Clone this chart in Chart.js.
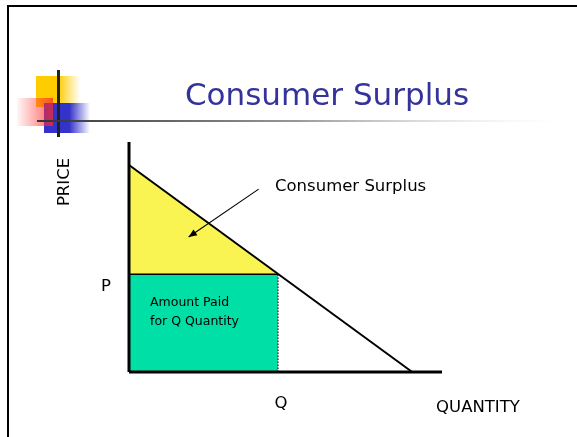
<!DOCTYPE html>
<html>
<head>
  <title>Consumer Surplus</title>
  <style>
    body { margin: 0; background: #fff; overflow: hidden; }
    #chart { display: block; }
  </style>
</head>
<body>
  <canvas id="chart" width="577" height="437"></canvas>

  <script src="https://cdn.jsdelivr.net/npm/chart.js"></script>
  <script>
    // values (quantity on x, price on y)
    const demandLine = [{ x: 0, y: 9 }, { x: 9.5, y: 0 }];
    const priceP = 4.25;
    const quantityQ = 5;
    const axisMax = { x: 10.5, y: 10 };
    const labels = ["Consumer Surplus", "Amount Paid", "for Q Quantity", "PRICE", "QUANTITY", "P", "Q"];
    // arrow annotation from the label to the surplus area (data units)
    const arrowFrom = [4.35, 7.95];
    const arrowTo = [2, 5.87];

    const FONT = '"DejaVu Sans", Verdana, sans-serif';

    // slide frame, template squares, title and text labels
    const slidePlugin = {
      id: "slide",
      beforeDraw(chart) {
        const c = chart.ctx;
        c.save();
        c.fillStyle = "#fff";
        c.fillRect(0, 0, chart.width, chart.height);

        // frame (only top and left edges are inside the picture)
        c.fillStyle = "#000";
        c.fillRect(7, 5, chart.width - 7, 2);
        c.fillRect(7, 5, 2, chart.height - 5);

        // yellow square
        let g = c.createLinearGradient(36, 0, 80, 0);
        g.addColorStop(0, "#ffcc00");
        g.addColorStop(0.5, "#ffcc00");
        g.addColorStop(1, "rgba(255,204,0,0)");
        c.fillStyle = g;
        c.fillRect(36, 76, 44, 31);

        // blue square
        g = c.createLinearGradient(44, 0, 90, 0);
        g.addColorStop(0, "#3333cc");
        g.addColorStop(0.55, "#3333cc");
        g.addColorStop(1, "rgba(51,51,204,0)");
        c.fillStyle = g;
        c.fillRect(44, 103, 46, 30);

        // red square, transparent on the left
        g = c.createLinearGradient(17, 0, 53, 0);
        g.addColorStop(0, "rgba(255,60,60,0.05)");
        g.addColorStop(1, "rgba(255,40,40,0.75)");
        c.fillStyle = g;
        c.fillRect(17, 98, 36, 28);

        // cross lines
        c.fillStyle = "#222";
        c.fillRect(57, 70, 3, 67);
        g = c.createLinearGradient(37, 0, 560, 0);
        g.addColorStop(0, "#333");
        g.addColorStop(0.5, "#999");
        g.addColorStop(1, "rgba(230,230,230,0)");
        c.fillStyle = g;
        c.fillRect(37, 120, 530, 2);
        c.restore();
      },
      afterDraw(chart) {
        const c = chart.ctx;
        const xs = chart.scales.x, ys = chart.scales.y;
        c.save();

        // title
        c.fillStyle = "#333399";
        c.font = "31px " + FONT;
        c.textAlign = "center";
        c.textBaseline = "middle";
        c.fillText("Consumer Surplus", 327, 97);

        c.fillStyle = "#000";
        c.font = "16.5px " + FONT;
        c.textAlign = "left";
        c.fillText(labels[0], 275, 187);

        c.font = "12.5px " + FONT;
        c.fillText(labels[1], 150, 303);
        c.fillText(labels[2], 150, 322);

        c.font = "16.5px " + FONT;
        c.textAlign = "center";
        c.fillText(labels[4], 478, 408);
        c.fillText(labels[5], 106, ys.getPixelForValue(priceP) + 12);
        c.fillText(labels[6], xs.getPixelForValue(quantityQ) + 3, 404);

        c.save();
        c.translate(65, 182);
        c.rotate(-Math.PI / 2);
        c.fillText(labels[3], 0, 0);
        c.restore();

        // arrow
        const x1 = xs.getPixelForValue(arrowFrom[0]), y1 = ys.getPixelForValue(arrowFrom[1]);
        const x2 = xs.getPixelForValue(arrowTo[0]), y2 = ys.getPixelForValue(arrowTo[1]);
        c.strokeStyle = "#000";
        c.lineWidth = 1.1;
        c.beginPath();
        c.moveTo(x1, y1);
        c.lineTo(x2, y2);
        c.stroke();
        const a = Math.atan2(y2 - y1, x2 - x1);
        c.fillStyle = "#000";
        c.beginPath();
        c.moveTo(x2, y2);
        c.lineTo(x2 - 9 * Math.cos(a - 0.4), y2 - 9 * Math.sin(a - 0.4));
        c.lineTo(x2 - 9 * Math.cos(a + 0.4), y2 - 9 * Math.sin(a + 0.4));
        c.closePath();
        c.fill();
        c.restore();
      }
    };

    const ctx = document.getElementById("chart").getContext("2d");
    const chart = new Chart(ctx, {
      type: "scatter",
      data: {
        datasets: [
          { // price axis
            data: [{ x: 0, y: 0 }, { x: 0, y: axisMax.y }],
            borderColor: "#000", borderWidth: 3, showLine: true, pointRadius: 0, clip: false
          },
          { // quantity axis
            data: [{ x: 0, y: 0 }, { x: axisMax.x, y: 0 }],
            borderColor: "#000", borderWidth: 3, showLine: true, pointRadius: 0, clip: false
          },
          { // demand curve
            data: demandLine,
            borderColor: "#000", borderWidth: 2, showLine: true, pointRadius: 0, clip: false
          },
          { // dotted drop line at Q
            data: [{ x: quantityQ, y: 0 }, { x: quantityQ, y: priceP }],
            borderColor: "#000", borderWidth: 1, borderDash: [1.5, 1.5], showLine: true, pointRadius: 0
          },
          { // amount paid rectangle
            data: [{ x: 0, y: priceP }, { x: quantityQ, y: priceP }],
            borderColor: "#000", borderWidth: 1.5, showLine: true, pointRadius: 0,
            backgroundColor: "#00dfa6", fill: "origin"
          },
          { // consumer surplus triangle
            data: [demandLine[0], { x: quantityQ, y: priceP }],
            borderWidth: 0, showLine: true, pointRadius: 0,
            backgroundColor: "#f9f452", fill: { value: priceP }
          }
        ]
      },
      options: {
        responsive: false,
        animation: false,
        layout: { padding: { left: 129, right: 135, top: 142, bottom: 65 } },
        scales: {
          x: { display: false, min: 0, max: axisMax.x },
          y: { display: false, min: 0, max: axisMax.y }
        },
        plugins: {
          legend: { display: false },
          tooltip: { enabled: false }
        }
      },
      plugins: [slidePlugin]
    });
  </script>
</body>
</html>
